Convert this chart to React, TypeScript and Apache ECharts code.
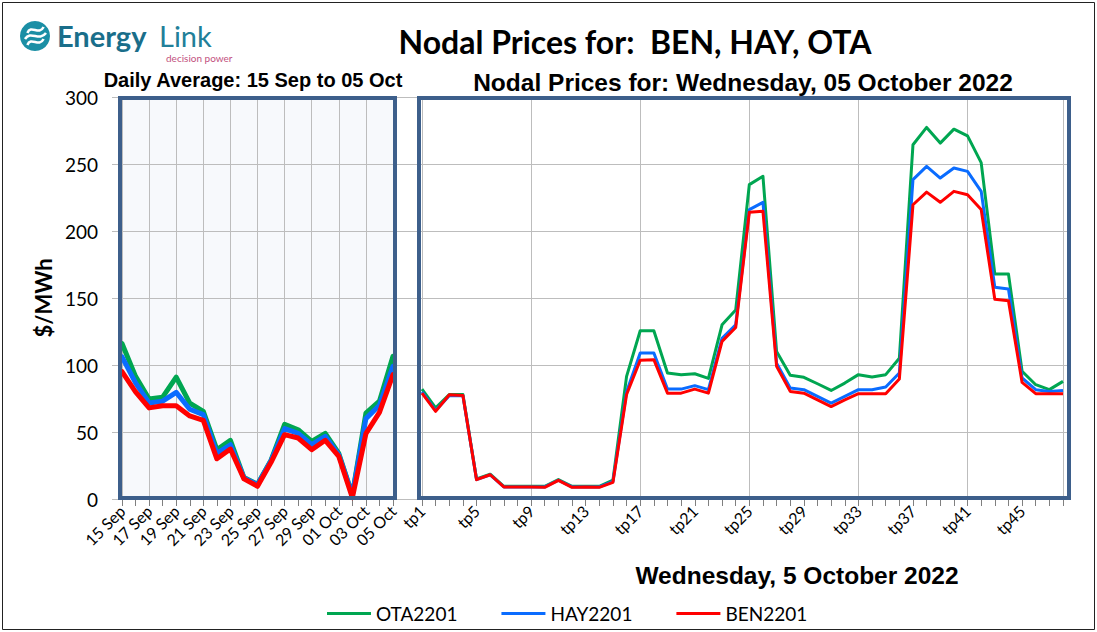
import React, { useEffect, useRef } from "react";
import * as echarts from "echarts";

const days = [
  "15 Sep", "16 Sep", "17 Sep", "18 Sep", "19 Sep", "20 Sep", "21 Sep", "22 Sep",
  "23 Sep", "24 Sep", "25 Sep", "26 Sep", "27 Sep", "28 Sep", "29 Sep", "30 Sep",
  "01 Oct", "02 Oct", "03 Oct", "04 Oct", "05 Oct",
];

const periods = [
  "tp1", "tp2", "tp3", "tp4", "tp5", "tp6", "tp7", "tp8", "tp9", "tp10", "tp11", "tp12",
  "tp13", "tp14", "tp15", "tp16", "tp17", "tp18", "tp19", "tp20", "tp21", "tp22", "tp23", "tp24",
  "tp25", "tp26", "tp27", "tp28", "tp29", "tp30", "tp31", "tp32", "tp33", "tp34", "tp35", "tp36",
  "tp37", "tp38", "tp39", "tp40", "tp41", "tp42", "tp43", "tp44", "tp45", "tp46", "tp47", "tp48",
];

const yTicks = [0, 50, 100, 150, 200, 250, 300];

const dailyOTA = [116, 91.5, 74.6, 76, 91, 71.6, 65.4, 36.8, 43.8, 16, 11, 29, 55.7, 51.7, 43, 49, 34, 3, 64, 73, 106.5];
const dailyHAY = [106, 86.6, 71.6, 73, 79.6, 67, 63, 34, 40.5, 15.7, 10.7, 28.6, 52.5, 49, 40.5, 46.8, 33, 3, 60, 70, 99];
const dailyBEN = [95, 80, 68, 69.6, 69.6, 62, 58.7, 30, 37.3, 15, 9.5, 27.4, 48, 45.5, 36.8, 43.8, 31.8, 1, 48.8, 64.7, 92.8];

const tpOTA = [
  82, 68, 78, 78, 15, 18.5, 9.5, 9.5, 9.5, 9.5, 14.5, 9.5, 9.5, 9.5, 14, 91.5,
  125.6, 125.6, 94, 92.8, 93.5, 90, 130, 141, 234.6, 240.8, 110, 92.3, 90.8, 86, 81, 86.5,
  92.8, 91, 92.8, 105, 264.4, 277.3, 265.6, 276, 271, 251, 168, 168, 95.3, 85.3, 81.6, 87.8,
];
const tpHAY = [
  80, 66, 77, 77, 14.5, 18, 9, 9, 9, 9, 14, 9, 9, 9, 13, 80,
  109, 109, 82, 82, 84.6, 81.6, 120, 130, 216, 221.4, 101.4, 82.8, 81.6, 76.6, 71.6, 76.6,
  81.6, 81.6, 83.6, 94, 238.3, 248.2, 239.5, 247, 244.5, 229.6, 158, 156.7, 90.3, 81.6, 80.3, 81,
];
const tpBEN = [
  79, 65.4, 77.8, 77.3, 14.4, 18.1, 9, 9, 9, 8.7, 13.9, 8.7, 9, 8.7, 12.4, 78,
  103.5, 104, 79, 79, 82, 79, 117.6, 128, 214, 214.7, 99, 80.3, 79, 74, 69, 74,
  78.6, 78.6, 78.6, 89.5, 219.6, 229, 221.4, 229.6, 227, 216, 149, 148, 87, 78.6, 78.6, 78.6,
];

const names = ["OTA2201", "HAY2201", "BEN2201"];
const colors = ["#00a651", "#0a6cff", "#ff0000"];

export default function App() {
  const ref = useRef<HTMLDivElement>(null);

  useEffect(() => {
    document.body.style.margin = "0";
    const chart = echarts.init(ref.current as HTMLDivElement, null, { renderer: "svg" });
    const gridLine = "#bdbdbd";
    const boxColor = "#3d5f8b";
    const tickColor = "#808080";
    const top = 97;
    const height = 402;
    const yMin = yTicks[0];
    const yMax = yTicks[yTicks.length - 1];
    const yStep = yTicks[1] - yTicks[0];

    const hiddenY = (gridIndex: number) => ({
      type: "value",
      gridIndex,
      min: yMin,
      max: yMax,
      interval: yStep,
      show: false,
    });

    const dailySeries = [dailyOTA, dailyHAY, dailyBEN].map((d, i) => ({
      name: names[i],
      type: "line",
      xAxisIndex: 1,
      yAxisIndex: 1,
      data: d,
      symbol: "none",
      color: colors[i],
      lineStyle: { width: 5, color: colors[i], join: "round", cap: "round" },
      z: 3 + i,
    }));
    const tpSeries = [tpOTA, tpHAY, tpBEN].map((d, i) => ({
      name: names[i],
      type: "line",
      xAxisIndex: 2,
      yAxisIndex: 2,
      data: d,
      symbol: "none",
      color: colors[i],
      lineStyle: { width: 3, color: colors[i], join: "round" },
      z: 3 + i,
    }));

    const waves = [-6, 0, 6].map((k) => ({
      type: "bezierCurve",
      shape: {
        x1: 25 + Math.abs(k) * 0.4, y1: 39 + k,
        x2: 46 - Math.abs(k) * 0.4, y2: 33 + k,
        cpx1: 31, cpy1: 30 + k,
        cpx2: 39, cpy2: 42 + k,
      },
      style: { stroke: "#ffffff", lineWidth: 2.6, fill: "none" },
      z: 21,
    }));

    const option = {
      animation: false,
      grid: [
        { left: 112, top, width: 957, height },
        { left: 122, top, width: 271, height },
        { left: 422, top, width: 641, height },
      ],
      xAxis: [
        { type: "value", gridIndex: 0, min: 0, max: 1, show: false },
        {
          type: "category",
          gridIndex: 1,
          data: days,
          boundaryGap: false,
          axisLine: { show: false },
          axisTick: { show: true, interval: 0, length: 7, lineStyle: { color: tickColor } },
          axisLabel: {
            interval: 1,
            rotate: 45,
            margin: 9,
            fontSize: 16,
            fontFamily: "Lato",
            color: "#000",
          },
          splitLine: {
            show: true,
            interval: (i: number) => i % 2 === 0,
            lineStyle: { color: gridLine, width: 1 },
          },
        },
        {
          type: "category",
          gridIndex: 2,
          data: periods,
          boundaryGap: false,
          axisLine: { show: false },
          axisTick: { show: true, interval: 0, length: 7, lineStyle: { color: tickColor } },
          axisLabel: {
            interval: 3,
            rotate: 45,
            margin: 9,
            fontSize: 16,
            fontFamily: "Lato",
            color: "#000",
          },
          splitLine: {
            show: true,
            interval: (i: number) => i % 8 === 0 || i === periods.length - 1,
            lineStyle: { color: gridLine, width: 1 },
          },
        },
      ],
      yAxis: [
        {
          type: "value",
          gridIndex: 0,
          min: yMin,
          max: yMax,
          interval: yStep,
          axisLine: { show: false },
          axisTick: { show: false },
          axisLabel: { margin: 14, fontSize: 19, fontFamily: "Lato", color: "#000" },
          splitLine: { show: true, lineStyle: { color: gridLine, width: 1 } },
          name: "$/MWh",
          nameLocation: "middle",
          nameGap: 58,
          nameRotate: 90,
          nameTextStyle: { fontSize: 22, fontWeight: "bold", fontFamily: "Lato", color: "#000" },
        },
        hiddenY(1),
        hiddenY(2),
      ],
      legend: {
        data: names,
        left: 322,
        top: 599,
        icon: "rect",
        itemWidth: 44,
        itemHeight: 3,
        itemGap: 44,
        textStyle: { fontSize: 19, fontFamily: "Lato", color: "#000" },
      },
      graphic: [
        {
          type: "rect",
          shape: { x: 2.5, y: 2.5, width: 1092, height: 627 },
          style: { fill: "none", stroke: "#222", lineWidth: 1 },
          z: 0,
          silent: true,
        },
        {
          type: "rect",
          shape: { x: 120, y: 98, width: 275, height: 400 },
          style: { fill: "#f7f9fc" },
          z: -10,
          silent: true,
        },
        {
          type: "rect",
          shape: { x: 120, y: 98, width: 275, height: 400 },
          style: { fill: "none", stroke: boxColor, lineWidth: 4 },
          z: 50,
          silent: true,
        },
        {
          type: "rect",
          shape: { x: 419, y: 98, width: 650, height: 400 },
          style: { fill: "none", stroke: boxColor, lineWidth: 4 },
          z: 50,
          silent: true,
        },
        {
          type: "circle",
          shape: { cx: 35, cy: 36, r: 15 },
          style: { fill: "#1b8fa5" },
          z: 20,
        },
        ...waves,
        {
          type: "text",
          x: 57,
          y: 35,
          style: {
            text: "Energy",
            fill: "#1a6e8a",
            fontSize: 29,
            fontWeight: "bold",
            fontFamily: "Lato",
            align: "left",
            verticalAlign: "middle",
          },
          z: 20,
        },
        {
          type: "text",
          x: 159,
          y: 35,
          style: {
            text: "Link",
            fill: "#217f99",
            fontSize: 29,
            fontFamily: "Lato",
            align: "left",
            verticalAlign: "middle",
          },
          z: 20,
        },
        {
          type: "text",
          x: 166,
          y: 58,
          style: {
            text: "decision power",
            fill: "#c2507e",
            fontSize: 10,
            fontFamily: "Lato",
            align: "left",
            verticalAlign: "middle",
          },
          z: 20,
        },
        {
          type: "text",
          x: 635,
          y: 41,
          style: {
            text: "Nodal Prices for:  BEN, HAY, OTA",
            fill: "#000",
            fontSize: 32,
            fontWeight: "bold",
            fontFamily: "Lato",
            align: "center",
            verticalAlign: "middle",
          },
          z: 20,
        },
        {
          type: "text",
          x: 253,
          y: 80,
          style: {
            text: "Daily Average: 15 Sep to 05 Oct",
            fill: "#000",
            fontSize: 20,
            fontWeight: "bold",
            fontFamily: "Liberation Sans",
            align: "center",
            verticalAlign: "middle",
          },
          z: 20,
        },
        {
          type: "text",
          x: 743,
          y: 82,
          style: {
            text: "Nodal Prices for: Wednesday, 05 October 2022",
            fill: "#000",
            fontSize: 24.5,
            fontWeight: "bold",
            fontFamily: "Liberation Sans",
            align: "center",
            verticalAlign: "middle",
          },
          z: 20,
        },
        {
          type: "text",
          x: 797,
          y: 575,
          style: {
            text: "Wednesday, 5 October 2022",
            fill: "#000",
            fontSize: 24.5,
            fontWeight: "bold",
            fontFamily: "Liberation Sans",
            align: "center",
            verticalAlign: "middle",
          },
          z: 20,
        },
      ],
      series: [...dailySeries, ...tpSeries],
    };

    chart.setOption(option as any);
    return () => chart.dispose();
  }, []);

  return (
    <div
      ref={ref}
      style={{ position: "absolute", left: 0, top: 0, width: 1097, height: 632, background: "#fff" }}
    />
  );
}
